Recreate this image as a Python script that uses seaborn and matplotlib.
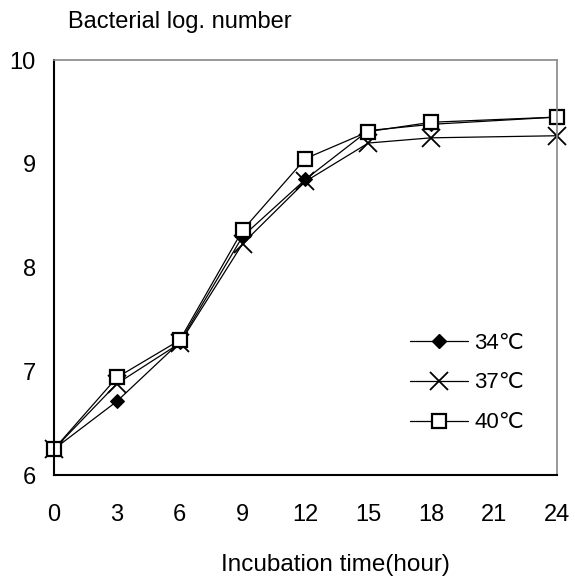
import matplotlib
matplotlib.use("Agg")
import matplotlib.pyplot as plt
import seaborn as sns
import pandas as pd
from matplotlib.lines import Line2D

hours = [0, 3, 6, 9, 12, 15, 18, 24]
t34 = [6.25, 6.71, 7.28, 8.30, 8.85, 9.32, 9.38, 9.45]
t37 = [6.25, 6.88, 7.27, 8.23, 8.83, 9.20, 9.25, 9.27]
t40 = [6.25, 6.94, 7.30, 8.36, 9.05, 9.31, 9.40, 9.45]
labels = ["34℃", "37℃", "40℃"]
xticks = [0, 3, 6, 9, 12, 15, 18, 21, 24]
yticks = [6, 7, 8, 9, 10]

sns.set_theme(style="white")
plt.rcParams['font.family'] = ['Liberation Sans', 'DejaVu Sans']
plt.rcParams['text.color'] = 'black'

fig = plt.figure(figsize=(5.75, 5.82), dpi=100)
ax = fig.add_axes([0.0939, 0.1838, 0.8748, 0.7131])

styles = [
    dict(marker="D", markersize=7, markerfacecolor="black", markeredgecolor="black"),
    dict(marker="x", markersize=13, markeredgewidth=1.3, markeredgecolor="black"),
    dict(marker="s", markersize=10.5, markerfacecolor="white", markeredgecolor="black", markeredgewidth=1.6),
]
for lab, vals, st in zip(labels, [t34, t37, t40], styles):
    df = pd.DataFrame({"hour": hours, "val": vals})
    sns.lineplot(data=df, x="hour", y="val", ax=ax, color="black", linewidth=0.9,
                 clip_on=False, **st)

handles = [Line2D([0], [0], color="black", linewidth=0.9, **st) for st in styles]
leg = ax.legend(handles, labels, loc="center left", bbox_to_anchor=(0.708, 0.222),
                frameon=False, fontsize=16, handlelength=2.6, labelspacing=0.85,
                handletextpad=0.3, borderpad=0, borderaxespad=0, labelcolor="black")

ax.set_xlim(0, 24)
ax.set_ylim(6, 10)
ax.set_xticks(xticks)
ax.set_yticks(yticks)
ax.tick_params(axis="both", direction="in", length=8, width=1, labelsize=17,
               color="black", labelcolor="black")
ax.tick_params(axis="x", pad=21)
ax.tick_params(axis="y", pad=13)
ax.set_xlabel("")
ax.set_ylabel("")
for side in ["left", "bottom"]:
    ax.spines[side].set_color("black")
    ax.spines[side].set_linewidth(1.5)
for side in ["top", "right"]:
    ax.spines[side].set_color("#888888")
    ax.spines[side].set_linewidth(1.2)

fig.text(0.313, 0.962, "Bacterial log. number", ha="center", va="center", fontsize=17, color="black")
fig.text(0.584, 0.029, "Incubation time(hour)", ha="center", va="center", fontsize=17.5, color="black")

fig.savefig("out.png", dpi=100)
